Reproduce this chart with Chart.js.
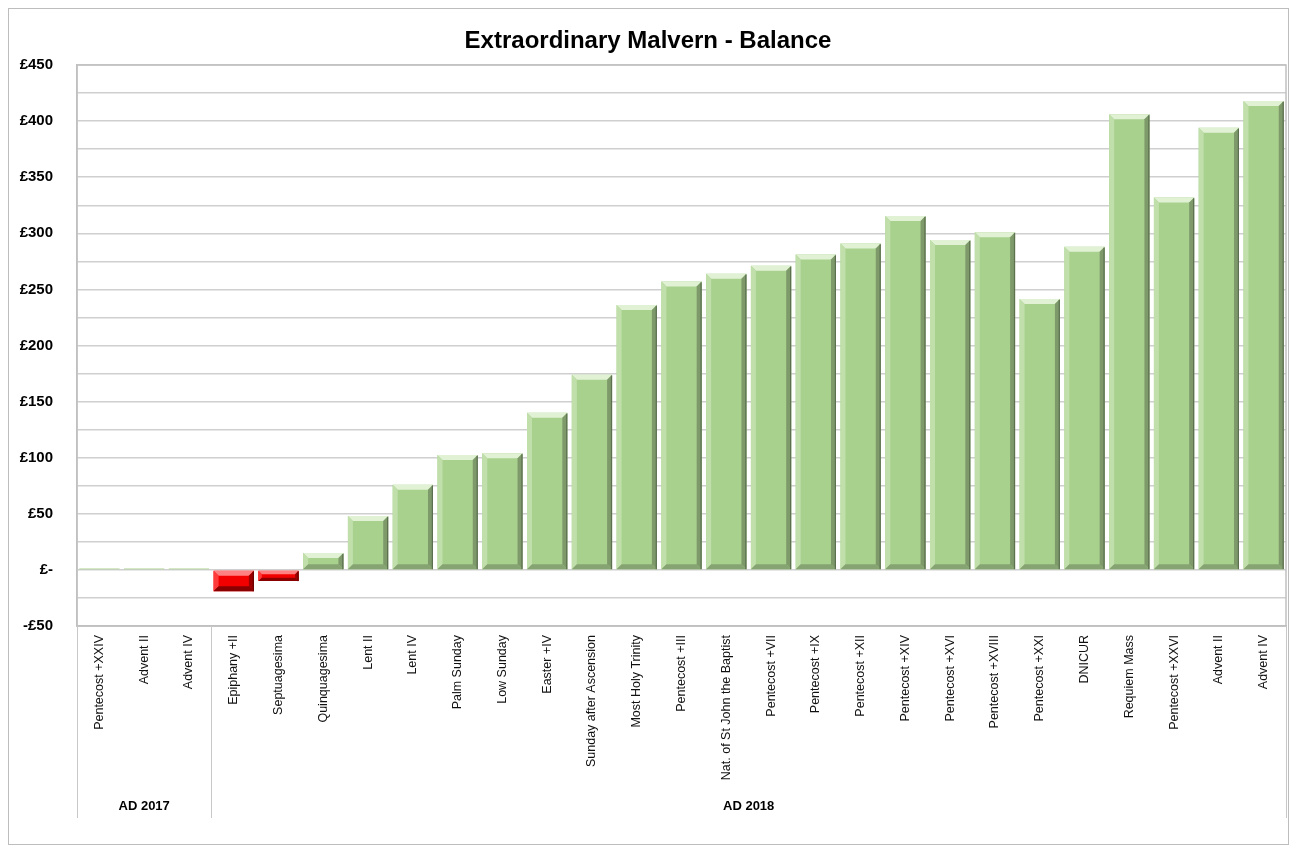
<!DOCTYPE html>
<html lang="en">
<head>
    <meta charset="UTF-8">
    <title>Extraordinary Malvern - Balance</title>
    <script src="https://cdn.jsdelivr.net/npm/chart.js"></script>
    <style>
        html, body { margin: 0; padding: 0; background: #fff; }
        #wrap { position: relative; width: 1292px; height: 851px; }
    </style>
</head>
<body>
    <div id="wrap">
        <canvas id="balance-chart" width="1292" height="851"></canvas>
    </div>

    <script>
        const chartTitle = 'Extraordinary Malvern - Balance';

        const sundays = [
            'Pentecost +XXIV', 'Advent II', 'Advent IV',
            'Epiphany +II', 'Septuagesima', 'Quinquagesima', 'Lent II', 'Lent IV',
            'Palm Sunday', 'Low Sunday', 'Easter +IV', 'Sunday after Ascension',
            'Most Holy Trinity', 'Pentecost +III', 'Nat. of St John the Baptist',
            'Pentecost +VII', 'Pentecost +IX', 'Pentecost +XII', 'Pentecost +XIV',
            'Pentecost +XVI', 'Pentecost +XVIII', 'Pentecost +XXI', 'DNICUR',
            'Requiem Mass', 'Pentecost +XXVI', 'Advent II', 'Advent IV'
        ];

        const balance = [
            1.2, 1.2, 1.2,
            -19, -10, 15, 48, 76,
            102.5, 104, 140, 174,
            236, 257, 264,
            271, 281, 291, 315.5,
            294, 301, 241.5, 288,
            406, 332, 394, 418
        ];

        const years = ['AD 2017', 'AD 2018'];
        const yearCounts = [3, 24];

        const yMin = -50;
        const yMax = 450;

        const font = "'Liberation Sans', Arial, sans-serif";

        // Fake bevel on each bar, drawn over the bar rectangles Chart.js made
        const bevelPlugin = {
            id: 'bevel',
            afterDatasetsDraw(chart) {
                const ctx = chart.ctx;
                const meta = chart.getDatasetMeta(0);
                meta.data.forEach((bar, i) => {
                    const l = bar.x - bar.width / 2;
                    const r = bar.x + bar.width / 2;
                    const t = Math.min(bar.y, bar.base);
                    const bo = Math.max(bar.y, bar.base);
                    const h = bo - t;
                    if (h < 3) return;
                    const b = Math.min(5, h / 3);
                    const neg = balance[i] < 0;
                    const c = neg
                        ? { top: '#ff8080', left: '#ff3a3a', right: '#9c0000', bottom: '#8a0000', edge: '#6a0000' }
                        : { top: '#e0f1d4', left: '#c0dfab', right: '#7e9a6b', bottom: '#86a372', edge: '#5d7050' };
                    const poly = (pts, col) => {
                        ctx.beginPath();
                        ctx.moveTo(pts[0][0], pts[0][1]);
                        for (let k = 1; k < pts.length; k++) ctx.lineTo(pts[k][0], pts[k][1]);
                        ctx.closePath();
                        ctx.fillStyle = col;
                        ctx.fill();
                    };
                    ctx.save();
                    poly([[l, t], [r, t], [r - b, t + b], [l + b, t + b]], c.top);
                    poly([[l, t], [l + b, t + b], [l + b, bo - b], [l, bo]], c.left);
                    poly([[r, t], [r, bo], [r - b, bo - b], [r - b, t + b]], c.right);
                    poly([[l, bo], [r, bo], [r - b, bo - b], [l + b, bo - b]], c.bottom);
                    // thin dark shadow on the right edge
                    ctx.fillStyle = c.edge;
                    ctx.fillRect(r - 1.2, t + 1, 1.2, h - 1);
                    ctx.restore();
                });
            }
        };

        // Title, outer frame, plot frame and the year groups under the axis
        const framePlugin = {
            id: 'frame',
            beforeDraw(chart) {
                const ctx = chart.ctx;
                ctx.save();
                ctx.strokeStyle = '#bdbdbd';
                ctx.lineWidth = 1;
                ctx.strokeRect(8.5, 8.5, 1280, 836);
                ctx.restore();
            },
            afterDraw(chart) {
                const ctx = chart.ctx;
                const area = chart.chartArea;
                const x = chart.scales.x;
                ctx.save();

                ctx.font = 'bold 24px ' + font;
                ctx.fillStyle = '#000';
                ctx.textAlign = 'center';
                ctx.textBaseline = 'middle';
                ctx.fillText(chartTitle, 648, 41);

                ctx.strokeStyle = '#c0c0c0';
                ctx.lineWidth = 1.5;
                ctx.strokeRect(area.left, area.top, area.right - area.left, area.bottom - area.top);

                // group separators and names
                const half = (x.getPixelForValue(1) - x.getPixelForValue(0)) / 2;
                let start = 0;
                ctx.lineWidth = 1;
                ctx.strokeStyle = '#c8c8c8';
                ctx.font = 'bold 13px ' + font;
                ctx.fillStyle = '#000';
                const edges = [area.left];
                years.forEach((name, g) => {
                    const end = start + yearCounts[g] - 1;
                    const x0 = x.getPixelForValue(start) - half;
                    const x1 = x.getPixelForValue(end) + half;
                    edges.push(x1);
                    ctx.fillText(name, (x0 + x1) / 2, 806);
                    start = end + 1;
                });
                edges.forEach(ex => {
                    ctx.beginPath();
                    ctx.moveTo(Math.round(ex) + 0.5, area.bottom);
                    ctx.lineTo(Math.round(ex) + 0.5, 818);
                    ctx.stroke();
                });
                ctx.restore();
            }
        };

        const ctx = document.getElementById('balance-chart').getContext('2d');

        new Chart(ctx, {
            type: 'bar',
            data: {
                labels: sundays,
                datasets: [{
                    data: balance,
                    backgroundColor: balance.map(v => v < 0 ? '#f20000' : '#a9d18e'),
                    borderWidth: 0,
                    barPercentage: 0.9,
                    categoryPercentage: 1.0
                }]
            },
            options: {
                responsive: false,
                animation: false,
                layout: { padding: { left: 10, right: 6, top: 65, bottom: 0 } },
                plugins: {
                    legend: { display: false },
                    title: { display: false },
                    tooltip: { enabled: false }
                },
                scales: {
                    x: {
                        grid: { display: false, drawTicks: false },
                        border: { display: true, color: '#c0c0c0', width: 1.5 },
                        ticks: {
                            autoSkip: false,
                            minRotation: 90,
                            maxRotation: 90,
                            padding: 9,
                            color: '#111',
                            font: { family: font, size: 12.5 }
                        },
                        afterFit(scale) { scale.height = 225; }
                    },
                    y: {
                        min: yMin,
                        max: yMax,
                        grid: { color: '#cfcfcf', lineWidth: 1.5, drawTicks: false },
                        border: { display: true, color: '#c0c0c0', width: 1.5 },
                        ticks: {
                            stepSize: 25,
                            padding: 24,
                            color: '#000',
                            font: { family: font, size: 15, weight: 'bold' },
                            callback: v => {
                                if (v % 50 !== 0) return '';
                                if (v === 0) return '£-';
                                return v < 0 ? '-£' + Math.abs(v) : '£' + v;
                            }
                        },
                        afterFit(scale) { scale.width = 67; }
                    }
                }
            },
            plugins: [bevelPlugin, framePlugin]
        });
    </script>
</body>
</html>
